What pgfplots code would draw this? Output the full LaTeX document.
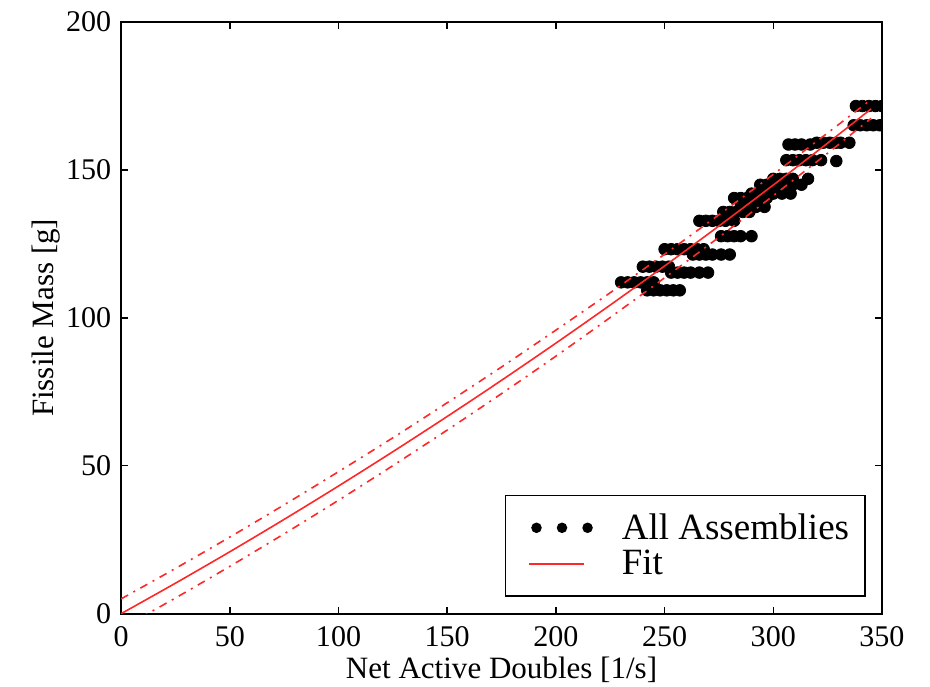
\documentclass[border=0pt]{standalone}
\usepackage{fontspec}
\setmainfont{Liberation Serif}
\usepackage{pgfplots}
\pgfplotsset{compat=1.18}

\definecolor{fitred}{RGB}{255,40,40}

\pgfplotstableread{
x y
230 112.0
233 112.0
236 112.0
239 112.0
242 112.0
245 112.0
242 109.3
245 109.3
248 109.3
251 109.3
254 109.3
257 109.3
240 117.3
243 117.3
246 117.3
249 117.3
252 117.3
253 115.3
256 115.3
259 115.3
262 115.3
266 115.3
270 115.3
250 123.2
253 123.2
256 123.2
259 123.2
262 123.2
265 123.2
268 123.2
263 121.4
266 121.4
269 121.4
272 121.4
276 121.4
280 121.4
266 132.8
269 132.8
272 132.8
275 132.8
278 132.8
282 132.8
276 127.6
279 127.6
282 127.6
285 127.6
290 127.6
277 135.8
280 135.8
283 135.8
286 135.8
289 135.8
285 137.5
289 137.5
292 137.5
296 137.5
282 140.5
285 140.5
288 140.5
291 140.5
294 140.5
297 140.5
290 142.0
293 142.0
296 142.0
300 142.0
304 142.0
308 142.0
294 145.0
297 145.0
300 145.0
303 145.0
306 145.0
309 145.0
313 145.0
300 147.0
303 147.0
306 147.0
309 147.0
316 147.0
306 153.3
309 153.3
312 153.3
315 153.3
318 153.3
322 153.3
329 153.0
307 158.6
310 158.6
313 158.6
317 158.6
320 159.2
323 159.2
326 159.2
329 159.2
331 159.2
335 159.2
337 165.1
340 165.1
343 165.1
346 165.1
349 165.1
338 171.6
341 171.6
344 171.6
347 171.6
350 171.6
}\assemblies

\pgfplotstableread{
x fit upper lower
0   0.00   5.00  -5.00
25  10.31  15.30   5.30
50  20.93  25.90  16.00
75  31.88  36.80  27.00
100 43.15  48.00  38.35
125 54.75  59.45  50.05
150 66.66  71.30  62.06
175 78.89  83.40  74.39
200 91.45  95.85  87.05
225 104.33 108.50 100.13
250 117.53 121.50 113.53
275 131.05 134.85 127.25
300 144.90 148.50 141.30
325 159.06 162.50 155.66
345 170.63 173.80 167.43
}\fitcurve

\begin{document}
\begin{tikzpicture}
\begin{axis}[
    width=380pt, height=295.5pt,
    scale only axis,
    xmin=0, xmax=350, ymin=0, ymax=200,
    xtick={0,50,...,350}, ytick={0,50,...,200},
    tick align=inside,
    major tick length=3.5pt,
    axis line style={line width=0.9pt},
    every tick/.style={black, line width=0.7pt},
    ticklabel style={font=\fontsize{15}{18}\selectfont},
    /pgf/number format/assume math mode=true,
    xticklabel style={yshift=-3pt},
    yticklabel style={xshift=-1.5pt},
    xlabel={Net Active Doubles [1/s]},
    ylabel={Fissile Mass [g]},
    label style={font=\fontsize{15.5}{19}\selectfont},
    xlabel style={yshift=2pt},
    ylabel style={yshift=-4pt},
    clip marker paths=true,
    legend cell align=left,
    legend style={at={(0.979,0.029)}, anchor=south east,
        draw=black, line width=0.8pt,
        font=\fontsize{18.5}{18.5}\selectfont,
        inner xsep=6pt, inner ysep=7pt,
        column sep=10pt, row sep=0pt},
]
\addplot[only marks, mark=*, mark size=2.9pt, black,
    legend image code/.code={
        \path (-13pt,0pt) (26.2pt,0pt);
        \fill[black] (-4pt,0pt) circle (2.2pt);
        \fill[black] (8.75pt,0pt) circle (2.2pt);
        \fill[black] (21.5pt,0pt) circle (2.2pt);}]
    table[x=x, y=y] {\assemblies};
\addlegendentry{All Assemblies}
\addplot[fitred, line width=0.8pt, smooth,
    legend image code/.code={\path (-13pt,0pt) (26.2pt,0pt);
        \draw[fitred, line width=0.8pt] (-7.5pt,0pt) -- (19.5pt,0pt);}]
    table[x=x, y=fit] {\fitcurve};
\addlegendentry{Fit}
\addplot[fitred, line width=0.8pt, smooth, dash pattern=on 4pt off 3pt on 1pt off 3pt, forget plot]
    table[x=x, y=upper] {\fitcurve};
\addplot[fitred, line width=0.8pt, smooth, dash pattern=on 4pt off 3pt on 1pt off 3pt, forget plot]
    table[x=x, y=lower] {\fitcurve};
\coordinate (ll) at (rel axis cs:0,0);
\coordinate (ur) at (rel axis cs:1,1);
\end{axis}
\pgfresetboundingbox
\path[use as bounding box] ([xshift=-60.5pt, yshift=-36.5pt]ll) rectangle ([xshift=24pt, yshift=11pt]ur);
\end{tikzpicture}
\end{document}
